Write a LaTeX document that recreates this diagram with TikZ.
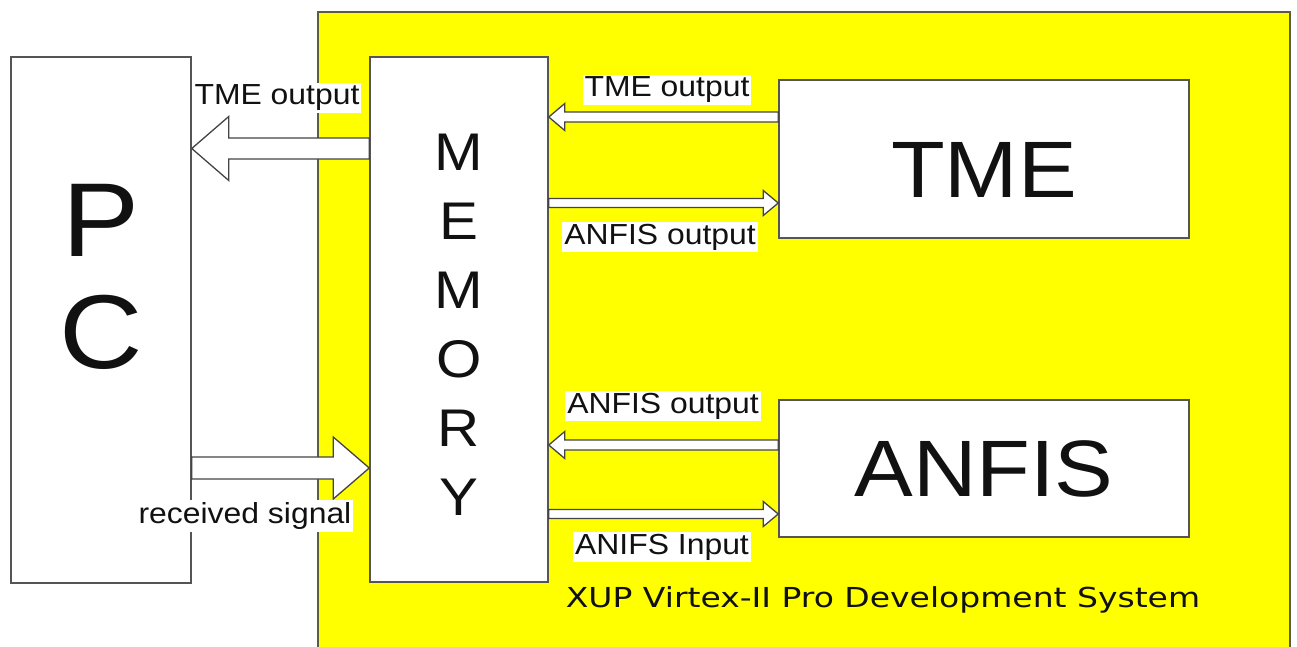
\documentclass[tikz,border=0pt]{standalone}
\usepackage{fontspec}
\setmainfont{Liberation Sans}[FakeStretch=1.1]
\newfontfamily\boardfont{DejaVu Sans}[FakeStretch=1.2]
\usetikzlibrary{calc,positioning}
\definecolor{board}{HTML}{FFFF00}
\definecolor{edge}{HTML}{555555}
\definecolor{boardedge}{HTML}{5C5C40}
\definecolor{ink}{HTML}{111111}
\tikzset{
  unit/.style={draw=edge,line width=1.5pt,fill=white,align=center,inner sep=0pt,text=ink},
  tag/.style={fill=white,inner sep=2pt,text=ink,font=\fontsize{29}{30}\selectfont},
  hollow/.style={draw=edge!80!black,line width=1.3pt,fill=white,line join=miter}
}
% tail, tip, body half width, head half width, head length
\newcommand{\hollowarrow}[5]{%
  \coordinate (hb) at ($#2!#5!#1$);
  \filldraw[hollow] ($#1!#3!90:#2$) -- ($(hb)!#3!-90:#1$) -- ($(hb)!#4!-90:#1$)
    -- #2 -- ($(hb)!#4!90:#1$) -- ($(hb)!#3!90:#1$) -- ($#1!#3!-90:#2$) -- cycle;
}

\begin{document}
\begin{tikzpicture}[x=1pt,y=-1pt]
  \useasboundingbox (0,0) rectangle (1297,646);
  \fill[white] (0,0) rectangle (1297,646);
  \node[draw=boardedge,line width=2pt,fill=board,minimum width=972pt,minimum height=650pt] (xup) at (804,337) {};
  \node[anchor=base,font=\boardfont\fontsize{27.5}{30}\selectfont,text=ink] (systag) at (883,607) {XUP Virtex-II Pro Development System};
  \node[unit,minimum width=180pt,minimum height=526pt] (pc) at (101,320) {};
  \node[text=ink,align=center,font=\fontsize{105}{112}\selectfont] (pcname) at (101,277) {P\\C};
  \node[unit,minimum width=178pt,minimum height=525pt] (mem) at (459,319.5) {};
  \node[text=ink,align=center,font=\fontsize{53}{69}\selectfont] (memname) at (459,324.5) {M\\E\\M\\O\\R\\Y};
  \node[unit,minimum width=410pt,minimum height=158pt,font=\fontsize{80}{80}\selectfont,
        text height=76pt,text depth=0pt] (tme) at (984,159) {TME};
  \node[unit,minimum width=410pt,minimum height=137pt,font=\fontsize{80}{80}\selectfont] (anfis) at (984,468.5) {ANFIS};
  % arrow rows
  \path (0,148.5) coordinate (yb1) (0,468) coordinate (yb2)
        (0,117) coordinate (ys1) (0,203) coordinate (ys2)
        (0,445) coordinate (ys3) (0,514) coordinate (ys4);
  \hollowarrow{(mem.west |- yb1)}{(pc.east |- yb1)}{10.5pt}{32pt}{37pt}
  \hollowarrow{(pc.east |- yb2)}{(mem.west |- yb2)}{11pt}{31pt}{36pt}
  \hollowarrow{(tme.west |- ys1)}{(mem.east |- ys1)}{5pt}{13.5pt}{16pt}
  \hollowarrow{(mem.east |- ys2)}{(tme.west |- ys2)}{4.5pt}{12.5pt}{15pt}
  \hollowarrow{(anfis.west |- ys3)}{(mem.east |- ys3)}{5pt}{13.5pt}{16pt}
  \hollowarrow{(mem.east |- ys4)}{(anfis.west |- ys4)}{4.5pt}{12.5pt}{15pt}
  % labels
  \node[tag] (l1) at (277,98) {TME output};
  \node[tag] (l2) at (245,516) {received signal};
  \node[tag] (l3) at (667,90) {TME output};
  \node[tag] (l4) at (660,237) {ANFIS output};
  \node[tag] (l5) at (663,406) {ANFIS output};
  \node[tag] (l6) at (662,547) {ANIFS Input};
\end{tikzpicture}
\end{document}
